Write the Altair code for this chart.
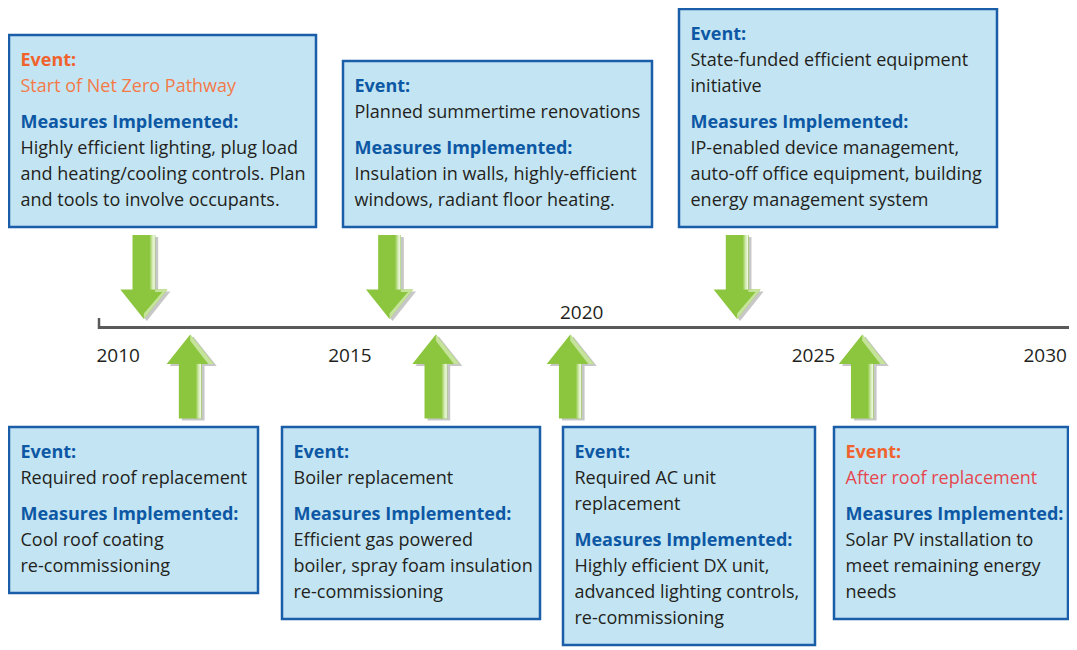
import altair as alt
import pandas as pd

# ------------------------------------------------------------------ data
timeline_years = [2010, 2015, 2020, 2025, 2030]
year_label_side = ["below", "below", "above", "below", "below"]

event_year = [2011.0, 2016.3, 2023.8, 2012.0, 2017.3, 2020.2, 2026.5]
event_side = ["top", "top", "top", "bottom", "bottom", "bottom", "bottom"]
event_tone = ["start", "plain", "plain", "plain", "plain", "plain", "end"]
event_lines = [
    ["Start of Net Zero Pathway"],
    ["Planned summertime renovations"],
    ["State-funded efficient equipment", "initiative"],
    ["Required roof replacement"],
    ["Boiler replacement"],
    ["Required AC unit", "replacement"],
    ["After roof replacement"],
]
measure_lines = [
    ["Highly efficient lighting, plug load", "and heating/cooling controls. Plan", "and tools to involve occupants."],
    ["Insulation in walls, highly-efficient", "windows, radiant floor heating."],
    ["IP-enabled device management,", "auto-off office equipment, building", "energy management system"],
    ["Cool roof coating", "re-commissioning"],
    ["Efficient gas powered", "boiler, spray foam insulation", "re-commissioning"],
    ["Highly efficient DX unit,", "advanced lighting controls,", "re-commissioning"],
    ["Solar PV installation to", "meet remaining energy", "needs"],
]

# ------------------------------------------------------------------ layout (pixels)
W, H = 1061, 642
PX_2010, PX_PER_YEAR = 89.5, 46.35


def px2yr(px):
    return 2010 + (px - PX_2010) / PX_PER_YEAR


XDOM = [px2yr(0), px2yr(W)]
box_px = [(1, 308), (335, 644), (671, 989), (1, 250), (274, 532), (555, 807), (826, 1060)]
TOP_ROW_BOTTOM = 219
BOTTOM_ROW_TOP = 419
AXIS_Y = 319.5
LINE = 26
GAP = 36
PAD_TOP = 25.5
PAD_BOT = 26.5
TEXT_INSET = 11.5
DOWN_Y, UP_Y = 269, 368.5
ARROW_SIZE = 84 ** 2
FONT = "Open Sans"
FS = 18

# ------------------------------------------------------------------ tables
box_rows, text_rows = [], []
for i in range(len(event_year)):
    n_ev, n_me = len(event_lines[i]), len(measure_lines[i])
    height = PAD_TOP + LINE * n_ev + GAP + LINE * n_me + PAD_BOT
    if event_side[i] == "top":
        top = TOP_ROW_BOTTOM - height
    else:
        top = BOTTOM_ROW_TOP
    left, right = box_px[i]
    box_rows.append({"x0": px2yr(left), "x1": px2yr(right), "y0": top, "y1": top + height})
    tx = px2yr(left + TEXT_INSET)
    y = top + PAD_TOP
    head_kind = "head_warm" if event_tone[i] in ("start", "end") else "head"
    text_rows.append({"x": tx, "y": y, "t": "Event:", "kind": head_kind, "bold": True})
    ev_kind = {"start": "ev_start", "end": "ev_end", "plain": "body"}[event_tone[i]]
    for ln in event_lines[i]:
        y += LINE
        text_rows.append({"x": tx, "y": y, "t": ln, "kind": ev_kind, "bold": False})
    y += GAP
    text_rows.append({"x": tx, "y": y, "t": "Measures Implemented:", "kind": "head", "bold": True})
    for ln in measure_lines[i]:
        y += LINE
        text_rows.append({"x": tx, "y": y, "t": ln, "kind": "body", "bold": False})

boxes = pd.DataFrame(box_rows)
texts = pd.DataFrame(text_rows)
arrows = pd.DataFrame({
    "year": event_year,
    "yc": [DOWN_Y if s == "top" else UP_Y for s in event_side],
    "side": event_side,
})
years = pd.DataFrame({
    "year": timeline_years,
    "label": [str(v) for v in timeline_years],
    "yl": [305 if s == "above" else 348 for s in year_label_side],
})
axis_df = pd.DataFrame({"x0": [px2yr(90)], "x1": [px2yr(W)], "y": [AXIS_Y]})
tick_df = pd.DataFrame({"x": [px2yr(91)], "y0": [310], "y1": [321]})

# ------------------------------------------------------------------ encodings
xs = alt.Scale(domain=XDOM, nice=False, zero=False)
ys = alt.Scale(domain=[0, H], nice=False, zero=False, reverse=True)


def X(f):
    return alt.X(f, type="quantitative", scale=xs, axis=None)


def Y(f):
    return alt.Y(f, type="quantitative", scale=ys, axis=None)


kind_scale = alt.Scale(
    domain=["head", "head_warm", "ev_start", "ev_end", "body"],
    range=["#0d58a4", "#f0622e", "#f47a48", "#e6474f", "#231f20"],
)

base_box = alt.Chart(boxes)
shadow1 = base_box.mark_rect(fill="#7a7a7a", opacity=0.22, xOffset=4, yOffset=4).encode(
    x=X("x0"), x2="x1", y=Y("y0"), y2="y1")
shadow2 = base_box.mark_rect(fill="#7a7a7a", opacity=0.32, xOffset=2, yOffset=2).encode(
    x=X("x0"), x2="x1", y=Y("y0"), y2="y1")
rects = base_box.mark_rect(fill="#c3e5f3", stroke="#1a5da8", strokeWidth=2.5).encode(
    x=X("x0"), x2="x1", y=Y("y0"), y2="y1")

txt_reg = alt.Chart(texts).transform_filter("!datum.bold").mark_text(
    align="left", baseline="middle", font=FONT, fontSize=FS).encode(
    x=X("x"), y=Y("y"), text="t:N", color=alt.Color("kind:N", scale=kind_scale, legend=None))
txt_bold = alt.Chart(texts).transform_filter("datum.bold").mark_text(
    align="left", baseline="middle", font=FONT, fontSize=FS, fontWeight="bold").encode(
    x=X("x"), y=Y("y"), text="t:N", color=alt.Color("kind:N", scale=kind_scale, legend=None))

DOWN = "M-0.27,-1 L0.27,-1 L0.27,0.3 L0.56,0.3 L0,1 L-0.56,0.3 L-0.27,0.3 Z"
DOWN_STRIPE = "M0.13,-1 L0.27,-1 L0.27,0.3 L0.13,0.3 Z"
DOWN_BEVEL = "M0.27,0.3 L0.56,0.3 L0,1 L0,0.87 L0.44,0.36 L0.27,0.36 Z"
UP = "M-0.27,1 L0.27,1 L0.27,-0.3 L0.56,-0.3 L0,-1 L-0.56,-0.3 L-0.27,-0.3 Z"
UP_STRIPE = "M0.13,1 L0.27,1 L0.27,-0.3 L0.13,-0.3 Z"
UP_BEVEL = "M0,-1 L0.56,-0.3 L0.43,-0.3 L0,-0.85 Z"

stripe_fill = alt.LinearGradient(
    gradient="linear", x1=0, x2=1, y1=0, y2=0,
    stops=[alt.GradientStop(offset=0, color="#8cc63f"),
           alt.GradientStop(offset=0.55, color="#d6ecb6"),
           alt.GradientStop(offset=0.85, color="#eef7e2"),
           alt.GradientStop(offset=1, color="#a9cf78")],
)


def arrow_layers(side, main, stripe, bevel):
    b = alt.Chart(arrows).transform_filter(alt.datum.side == side)
    enc = dict(x=X("year"), y=Y("yc"))
    sh = b.mark_point(shape=main, size=ARROW_SIZE, filled=True, fill="#5f5f5f", opacity=0.35,
                      strokeWidth=0, xOffset=3, yOffset=2).encode(**enc)
    m = b.mark_point(shape=main, size=ARROW_SIZE, filled=True, fill="#8cc63f", opacity=1,
                     strokeWidth=0).encode(**enc)
    s = b.mark_point(shape=stripe, size=ARROW_SIZE, filled=True, fill=stripe_fill, opacity=1,
                     strokeWidth=0).encode(**enc)
    bv = b.mark_point(shape=bevel, size=ARROW_SIZE, filled=True, fill="#c6e39c", opacity=1,
                      strokeWidth=0).encode(**enc)
    return [sh, m, s, bv]


axis_line = alt.Chart(axis_df).mark_rule(color="#5a5a5a", strokeWidth=3).encode(
    x=X("x0"), x2="x1", y=Y("y"))
axis_tick = alt.Chart(tick_df).mark_rule(color="#5a5a5a", strokeWidth=2.5).encode(
    x=X("x"), y=Y("y0"), y2="y1")
year_txt = alt.Chart(years).mark_text(
    align="left", baseline="middle", font=FONT, fontSize=19, color="#231f20", dx=-1).encode(
    x=X("year"), y=Y("yl"), text="label:N")

chart = alt.layer(
    shadow1, shadow2, rects, txt_reg, txt_bold,
    axis_line, axis_tick, year_txt,
    *arrow_layers("top", DOWN, DOWN_STRIPE, DOWN_BEVEL),
    *arrow_layers("bottom", UP, UP_STRIPE, UP_BEVEL),
).properties(
    width=W, height=H, padding=0,
    autosize=alt.AutoSizeParams(type="none"),
    background="white",
).configure_view(stroke=None)

chart.save("out.html", embed_options={"renderer": "svg", "actions": False})
